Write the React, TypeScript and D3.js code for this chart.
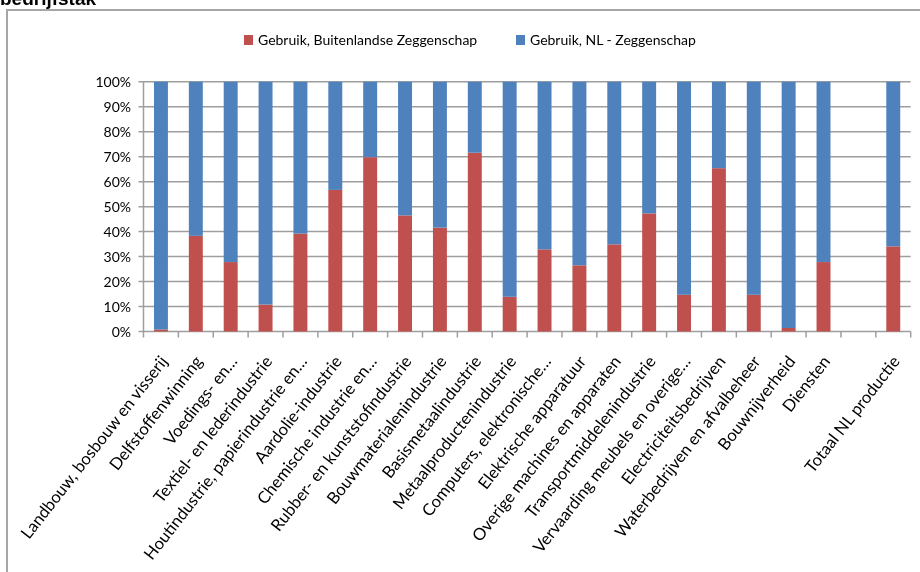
import React, { useEffect, useRef } from "react";
import * as d3 from "d3";

const categories: string[] = [
  "Landbouw, bosbouw en visserij",
  "Delfstoffenwinning",
  "Voedings- en…",
  "Textiel- en lederindustrie",
  "Houtindustrie, papierindustrie en…",
  "Aardolie-industrie",
  "Chemische industrie en…",
  "Rubber- en kunststofindustrie",
  "Bouwmaterialenindustrie",
  "Basismetaalindustrie",
  "Metaalproductenindustrie",
  "Computers, elektronische…",
  "Elektrische apparatuur",
  "Overige machines en apparaten",
  "Transportmiddelenindustrie",
  "Vervaarding meubels en overige…",
  "Electriciteitsbedrijven",
  "Waterbedrijven en afvalbeheer",
  "Bouwnijverheid",
  "Diensten",
  "",
  "Totaal NL productie",
];

const buitenlands: (number | null)[] = [
  0.8, 38.3, 27.8, 10.8, 39.2, 56.7, 69.8, 46.5, 41.6, 71.6, 13.9, 32.9, 26.5, 34.9, 47.3,
  14.7, 65.4, 14.7, 1.4, 27.8, null, 34.1,
];

const nederlands: (number | null)[] = buitenlands.map((v) => (v == null ? null : 100 - v));

const seriesNames = ["Gebruik, Buitenlandse Zeggenschap", "Gebruik, NL - Zeggenschap"];
const yTicks = [0, 10, 20, 30, 40, 50, 60, 70, 80, 90, 100];

const RED = "#C0504D";
const BLUE = "#4F81BD";
const FONT = "Lato, 'Open Sans', sans-serif";

export default function App() {
  const ref = useRef<SVGSVGElement>(null);

  useEffect(() => {
    const svg = d3.select(ref.current);
    svg.selectAll("*").remove();

    const left = 143.5;
    const right = 910.7;
    const top = 81.8;
    const bottom = 331.5;

    const x = d3
      .scaleBand<string>()
      .domain(categories.map((_, i) => String(i)))
      .range([left, right])
      .paddingInner(0.6)
      .paddingOuter(0.3);
    const y = d3.scaleLinear().domain([0, 100]).range([bottom, top]);

    // outer border
    svg
      .append("rect")
      .attr("x", 7)
      .attr("y", 10)
      .attr("width", 930)
      .attr("height", 580)
      .attr("fill", "white")
      .attr("stroke", "#a6a6a6")
      .attr("stroke-width", 2);

    // title (cut off at the top, as in the source)
    svg
      .append("text")
      .attr("x", 0)
      .attr("y", 5)
      .attr("font-family", "'Liberation Sans', Arial, sans-serif")
      .attr("font-weight", "bold")
      .attr("font-size", 19)
      .attr("fill", "#000")
      .text("bedrijfstak");

    // gridlines
    svg
      .append("g")
      .selectAll("line")
      .data(yTicks)
      .join("line")
      .attr("x1", left - 5)
      .attr("x2", right)
      .attr("y1", (d) => y(d))
      .attr("y2", (d) => y(d))
      .attr("stroke", "#9e9e9e")
      .attr("stroke-width", 1.5);

    // y axis line
    svg
      .append("line")
      .attr("x1", left)
      .attr("x2", left)
      .attr("y1", top)
      .attr("y2", bottom)
      .attr("stroke", "#9e9e9e")
      .attr("stroke-width", 1.5);

    // y labels
    svg
      .append("g")
      .selectAll("text")
      .data(yTicks)
      .join("text")
      .attr("x", 131)
      .attr("y", (d) => y(d) + 5)
      .attr("text-anchor", "end")
      .attr("font-family", FONT)
      .attr("font-size", 14)
      .attr("fill", "#000")
      .text((d) => `${d}%`);

    // x ticks
    const step = (right - left) / categories.length;
    svg
      .append("g")
      .selectAll("line")
      .data(d3.range(categories.length + 1))
      .join("line")
      .attr("x1", (i) => left + i * step)
      .attr("x2", (i) => left + i * step)
      .attr("y1", bottom)
      .attr("y2", bottom + 6)
      .attr("stroke", "#9e9e9e")
      .attr("stroke-width", 1.5);

    // bars
    const g = svg.append("g");
    categories.forEach((_, i) => {
      const r = buitenlands[i];
      const n = nederlands[i];
      if (r == null || n == null) return;
      const bx = x(String(i))!;
      const bw = x.bandwidth();
      g.append("rect")
        .attr("x", bx)
        .attr("width", bw)
        .attr("y", y(r))
        .attr("height", y(0) - y(r))
        .attr("fill", RED);
      g.append("rect")
        .attr("x", bx)
        .attr("width", bw)
        .attr("y", y(r + n))
        .attr("height", y(r) - y(r + n))
        .attr("fill", BLUE);
    });

    // x labels
    svg
      .append("g")
      .selectAll("text")
      .data(categories)
      .join("text")
      .attr(
        "transform",
        (_, i) => `translate(${x(String(i))! + x.bandwidth() / 2 - 3},${bottom + 22}) rotate(-52)`
      )
      .attr("dy", "0.8em")
      .attr("text-anchor", "end")
      .attr("font-family", FONT)
      .attr("font-size", 16.6)
      .attr("fill", "#000")
      .text((d) => d);

    // legend
    const legend = [
      { name: seriesNames[0], color: RED, x: 244 },
      { name: seriesNames[1], color: BLUE, x: 516 },
    ];
    const lg = svg.append("g");
    legend.forEach((l) => {
      lg.append("rect")
        .attr("x", l.x)
        .attr("y", 35)
        .attr("width", 9)
        .attr("height", 10)
        .attr("fill", l.color);
      lg.append("text")
        .attr("x", l.x + 14)
        .attr("y", 45)
        .attr("font-family", FONT)
        .attr("font-size", 14)
        .attr("fill", "#000")
        .text(l.name);
    });
  }, []);

  return (
    <div style={{ position: "fixed", left: 0, top: 0 }}>
      <svg ref={ref} width={920} height={572} style={{ display: "block" }} />
    </div>
  );
}
